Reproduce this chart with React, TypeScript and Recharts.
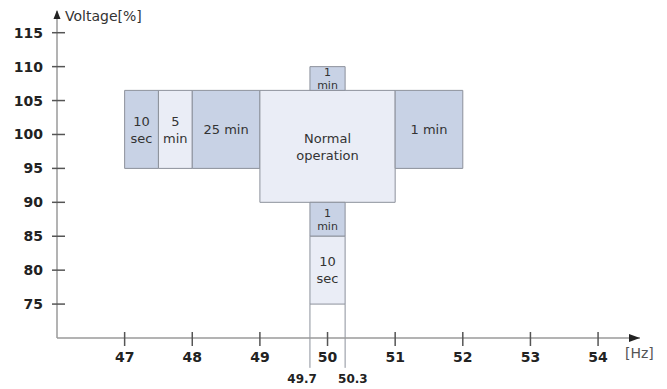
import React from 'react';
import { ComposedChart, XAxis, YAxis, ReferenceArea, ReferenceLine } from 'recharts';

// Frequency tick values [Hz]
const freqTicks = [47, 48, 49, 50, 51, 52, 53, 54];
// Voltage tick values [%]
const voltTicks = [75, 80, 85, 90, 95, 100, 105, 110, 115];

// Operating zones
const zoneLabels = ['10\nsec', '5\nmin', '25 min', 'Normal\noperation', '1 min', '1\nmin', '1\nmin', '10\nsec'];
const zoneFreqFrom = [47, 47.5, 48, 49, 51, 49.74, 49.74, 49.74];
const zoneFreqTo = [47.5, 48, 49, 51, 52, 50.26, 50.26, 50.26];
const zoneVoltFrom = [95, 95, 95, 90, 95, 106.5, 85, 75];
const zoneVoltTo = [106.5, 106.5, 106.5, 106.5, 106.5, 110, 90, 85];
const zoneShade = ['dark', 'light', 'dark', 'light', 'dark', 'dark', 'dark', 'light'];
const zoneSmall = [false, false, false, false, false, true, true, false];

// Marker lines below the narrow band
const markerFreqs = [49.74, 50.26];
const markerLabels = ['49.7', '50.3'];
const markerVoltFrom = 75;
const markerVoltTo = 65.6;

const FONT = 'DejaVu Sans, Verdana, sans-serif';
const DARK = '#c8d2e5';
const LIGHT = '#eaedf6';
const BORDER = '#8c919b';
const AXIS = '#9a9a9a';

const YTick = (props: any) => {
  const { x, y, payload } = props;
  return (
    <g>
      <line x1={x + 9} x2={x + 22} y1={y} y2={y} stroke="#555" strokeWidth={1.5} />
      <text x={x} y={y + 5} textAnchor="end" fontFamily={FONT} fontWeight="bold" fontSize={14} fill="#222">
        {payload.value}
      </text>
    </g>
  );
};

const XTick = (props: any) => {
  const { x, y, payload } = props;
  return (
    <g>
      <line x1={x} x2={x} y1={y - 6} y2={y + 8} stroke="#555" strokeWidth={1.5} />
      <text x={x} y={y + 24} textAnchor="middle" fontFamily={FONT} fontWeight="bold" fontSize={14} fill="#222">
        {payload.value}
      </text>
    </g>
  );
};

const zoneLabel = (text: string, small: boolean) => (props: any) => {
  const vb = props.viewBox || {};
  const lines = text.split('\n');
  const fs = small ? 11 : 13;
  const lh = small ? 13 : 17;
  const cx = vb.x + vb.width / 2;
  const cy = vb.y + vb.height / 2;
  const startY = cy - ((lines.length - 1) * lh) / 2 + fs * 0.36;
  return (
    <text textAnchor="middle" fontFamily={FONT} fontSize={fs} fill="#333">
      {lines.map((l, i) => (
        <tspan key={i} x={cx} y={startY + i * lh}>{l}</tspan>
      ))}
    </text>
  );
};

const markerLabel = (text: string, side: number) => (props: any) => {
  const vb = props.viewBox || {};
  const x = vb.x;
  const y = vb.y + vb.height;
  return (
    <text
      x={side < 0 ? x + 7 : x - 7}
      y={y + 15}
      textAnchor={side < 0 ? 'end' : 'start'}
      fontFamily={FONT}
      fontWeight="bold"
      fontSize={12}
      fill="#222"
    >
      {text}
    </text>
  );
};

const XAxisLabel = (props: any) => {
  const vb = props.viewBox || {};
  const ex = vb.x + vb.width;
  const y = vb.y;
  return (
    <g>
      <polygon points={`${ex},${y} ${ex - 11},${y - 4} ${ex - 11},${y + 4}`} fill="#222" />
      <text x={ex - 15} y={y + 20} fontFamily={FONT} fontSize={14} fill="#555">[Hz]</text>
    </g>
  );
};

const YAxisLabel = (props: any) => {
  const vb = props.viewBox || {};
  const ax = vb.x + vb.width;
  const y = vb.y;
  return (
    <g>
      <polygon points={`${ax},${y - 1} ${ax - 3.5},${y + 8} ${ax + 3.5},${y + 8}`} fill="#222" />
      <text x={ax + 8} y={y + 10} fontFamily={FONT} fontSize={14} fill="#333">Voltage[%]</text>
    </g>
  );
};

export default function App() {
  return (
    <div style={{ position: 'absolute', left: 0, top: 0, width: 667, height: 389, background: '#fff' }}>
      <ComposedChart width={667} height={389} data={[]} margin={{ top: 11, right: 27, bottom: 0, left: 0 }}>
        <XAxis
          type="number"
          dataKey="x"
          domain={[46, 54.62]}
          ticks={freqTicks}
          interval={0}
          allowDataOverflow
          height={51}
          tickSize={0}
          tickMargin={0}
          tickLine={false}
          axisLine={{ stroke: AXIS, strokeWidth: 1.5 }}
          tick={<XTick />}
          label={<XAxisLabel />}
        />
        <YAxis
          type="number"
          dataKey="y"
          domain={[70, 118.2]}
          ticks={voltTicks}
          interval={0}
          allowDataOverflow
          width={57}
          tickSize={0}
          tickMargin={14}
          tickLine={false}
          axisLine={{ stroke: AXIS, strokeWidth: 1.5 }}
          tick={<YTick />}
          label={<YAxisLabel />}
        />
        {zoneLabels.map((lbl, i) => (
          <ReferenceArea
            key={'z' + i}
            x1={zoneFreqFrom[i]}
            x2={zoneFreqTo[i]}
            y1={zoneVoltFrom[i]}
            y2={zoneVoltTo[i]}
            fill={zoneShade[i] === 'dark' ? DARK : LIGHT}
            fillOpacity={1}
            stroke={BORDER}
            strokeWidth={1}
            ifOverflow="visible"
            label={zoneLabel(lbl, zoneSmall[i])}
          />
        ))}
        {markerFreqs.map((f, i) => (
          <ReferenceLine
            key={'m' + i}
            segment={[{ x: f, y: markerVoltFrom }, { x: f, y: markerVoltTo }]}
            stroke={BORDER}
            strokeWidth={1}
            ifOverflow="visible"
            label={markerLabel(markerLabels[i], i === 0 ? -1 : 1)}
          />
        ))}
      </ComposedChart>
    </div>
  );
}
